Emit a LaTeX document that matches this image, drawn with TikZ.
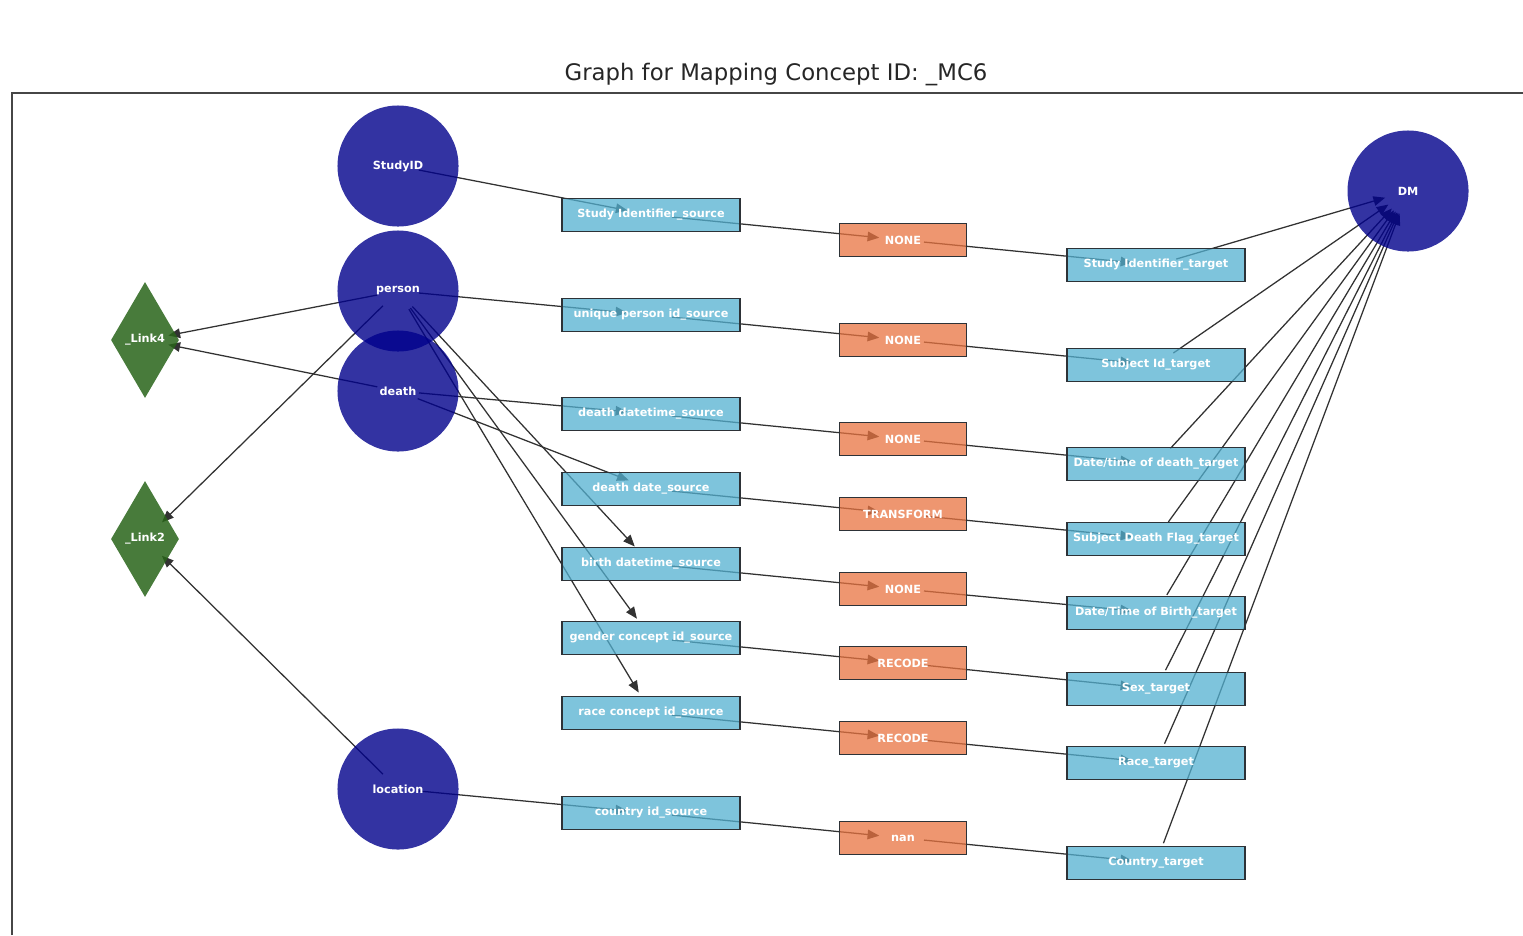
\documentclass[tikz,border=0pt]{standalone}
\usepackage{fontspec}
\setmainfont{DejaVu Sans}
\usetikzlibrary{arrows,shapes.geometric,backgrounds}

\definecolor{tblblue}{RGB}{0,0,139}
\definecolor{linkgreen}{RGB}{40,100,25}
\definecolor{colsky}{RGB}{83,176,208}
\definecolor{rulesalmon}{RGB}{232,115,64}
\definecolor{boxedge}{RGB}{45,50,55}
\definecolor{edgegray}{RGB}{50,50,50}
\definecolor{framegray}{RGB}{70,70,70}

\newcommand{\lblfont}{\fontsize{8}{9}\selectfont\bfseries}

\begin{document}
\begin{tikzpicture}[>=triangle 45, x=0.025cm, y=-0.025cm,
  tblnode/.style={circle, fill=tblblue, fill opacity=0.8, text opacity=1, text=white,
    minimum size=3.025cm, inner sep=0pt, font=\lblfont},
  linknode/.style={diamond, fill=linkgreen, fill opacity=0.85, text opacity=1, text=white,
    minimum width=1.7cm, minimum height=2.9cm, inner sep=0pt, font=\lblfont},
  srcbox/.style={rectangle, draw=boxedge, line width=1.3pt, fill=colsky, fill opacity=0.75,
    text opacity=1, text=white, minimum width=4.45cm, minimum height=0.825cm,
    inner sep=0pt, font=\lblfont},
  tgtbox/.style={srcbox},
  rulebox/.style={srcbox, fill=rulesalmon, minimum width=3.175cm},
  mapedge/.style={->, draw=edgegray, line width=0.9pt, shorten >=17pt, shorten <=15pt}]
\useasboundingbox (0,0) rectangle (1523,935);

% frame and title
\draw[framegray, line width=1.2pt] (12,935) -- (12,93) -- (1523,93);
\node[font=\fontsize{16.2}{19}\selectfont, text=black!85] (title) at (776,75) {Graph for Mapping Concept ID: \_MC6};

% tables and links
\node[tblnode] (StudyID) at (398,166) {StudyID};
\node[tblnode] (person) at (398,291) {person};
\node[tblnode] (death) at (398,391) {death};
\node[tblnode] (location) at (398,789) {location};
\node[tblnode] (DM) at (1408,191) {DM};
\node[linknode] (Link4) at (145,340) {\_Link4};
\node[linknode] (Link2) at (145,539) {\_Link2};

% source columns
\node[srcbox] (s1) at (651,215) {Study Identifier\_source};
\node[srcbox] (s2) at (651,315) {unique person id\_source};
\node[srcbox] (s3) at (651,414) {death datetime\_source};
\node[srcbox] (s4) at (651,489) {death date\_source};
\node[srcbox] (s5) at (651,564) {birth datetime\_source};
\node[srcbox] (s6) at (651,638) {gender concept id\_source};
\node[srcbox] (s7) at (651,713) {race concept id\_source};
\node[srcbox] (s8) at (651,813) {country id\_source};

% mapping rules
\node[rulebox] (r1) at (903,240) {NONE};
\node[rulebox] (r2) at (903,340) {NONE};
\node[rulebox] (r3) at (903,439) {NONE};
\node[rulebox] (r4) at (903,514) {TRANSFORM};
\node[rulebox] (r5) at (903,589) {NONE};
\node[rulebox] (r6) at (903,663) {RECODE};
\node[rulebox] (r7) at (903,738) {RECODE};
\node[rulebox] (r8) at (903,838) {nan};

% target columns
\node[tgtbox] (t1) at (1156,265) {Study Identifier\_target};
\node[tgtbox] (t2) at (1156,365) {Subject Id\_target};
\node[tgtbox] (t3) at (1156,464) {Date/time of death\_target};
\node[tgtbox] (t4) at (1156,539) {Subject Death Flag\_target};
\node[tgtbox] (t5) at (1156,613) {Date/Time of Birth\_target};
\node[tgtbox] (t6) at (1156,689) {Sex\_target};
\node[tgtbox] (t7) at (1156,763) {Race\_target};
\node[tgtbox] (t8) at (1156,863) {Country\_target};

\begin{scope}[on background layer]
\draw[mapedge] (person.center) -- (Link4.center);
\draw[mapedge] (death.center) -- (Link4.center);
\draw[mapedge] (person.center) -- (Link2.center);
\draw[mapedge] (location.center) -- (Link2.center);
\draw[mapedge] (StudyID.center) -- (s1.center);
\draw[mapedge] (person.center) -- (s2.center);
\draw[mapedge] (death.center) -- (s3.center);
\draw[mapedge] (death.center) -- (s4.center);
\draw[mapedge] (person.center) -- (s5.center);
\draw[mapedge] (person.center) -- (s6.center);
\draw[mapedge] (person.center) -- (s7.center);
\draw[mapedge] (location.center) -- (s8.center);
\draw[mapedge] (s1.center) -- (r1.center);
\draw[mapedge] (s2.center) -- (r2.center);
\draw[mapedge] (s3.center) -- (r3.center);
\draw[mapedge] (s4.center) -- (r4.center);
\draw[mapedge] (s5.center) -- (r5.center);
\draw[mapedge] (s6.center) -- (r6.center);
\draw[mapedge] (s7.center) -- (r7.center);
\draw[mapedge] (s8.center) -- (r8.center);
\draw[mapedge] (r1.center) -- (t1.center);
\draw[mapedge] (r2.center) -- (t2.center);
\draw[mapedge] (r3.center) -- (t3.center);
\draw[mapedge] (r4.center) -- (t4.center);
\draw[mapedge] (r5.center) -- (t5.center);
\draw[mapedge] (r6.center) -- (t6.center);
\draw[mapedge] (r7.center) -- (t7.center);
\draw[mapedge] (r8.center) -- (t8.center);
\draw[mapedge] (t1.center) -- (DM.center);
\draw[mapedge] (t2.center) -- (DM.center);
\draw[mapedge] (t3.center) -- (DM.center);
\draw[mapedge] (t4.center) -- (DM.center);
\draw[mapedge] (t5.center) -- (DM.center);
\draw[mapedge] (t6.center) -- (DM.center);
\draw[mapedge] (t7.center) -- (DM.center);
\draw[mapedge] (t8.center) -- (DM.center);
\end{scope}
%\draw[gray!30,step=50] (0,0) grid (1523,935);
\end{tikzpicture}
\end{document}
